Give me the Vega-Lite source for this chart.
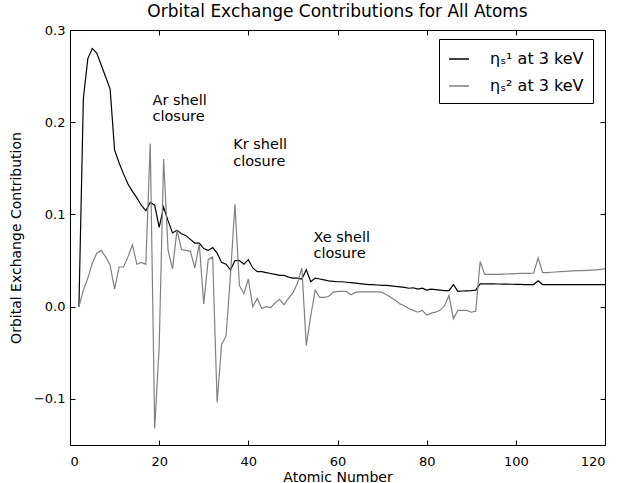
{
  "$schema": "https://vega.github.io/schema/vega-lite/v6.json",
  "width": 535,
  "height": 415,
  "autosize": "none",
  "padding": {"left": 70, "top": 30, "right": 15, "bottom": 38},
  "background": "white",
  "config": {
    "font": "DejaVu Sans",
    "view": {"stroke": "black", "strokeWidth": 1},
    "axis": {"grid": false, "domain": false, "tickColor": "black", "tickSize": -5, "labelColor": "black", "labelFontSize": 13, "titleFontSize": 14, "titleFontWeight": "normal", "titleColor": "black", "labelFont": "DejaVu Sans", "titleFont": "DejaVu Sans"}
  },
  "title": {"text": "Orbital Exchange Contributions for All Atoms", "fontSize": 17, "fontWeight": "normal", "font": "DejaVu Sans", "color": "black", "offset": 3},
  "datasets": {
    "series": [
      {"Z": 2, "a": 0, "b": 0},
      {"Z": 3, "a": 0.226, "b": 0.018},
      {"Z": 4, "a": 0.269, "b": 0.031},
      {"Z": 5, "a": 0.280, "b": 0.047},
      {"Z": 6, "a": 0.275, "b": 0.058},
      {"Z": 7, "a": 0.262, "b": 0.061},
      {"Z": 8, "a": 0.249, "b": 0.054},
      {"Z": 9, "a": 0.236, "b": 0.045},
      {"Z": 10, "a": 0.170, "b": 0.019},
      {"Z": 11, "a": 0.156, "b": 0.043},
      {"Z": 12, "a": 0.144, "b": 0.043},
      {"Z": 13, "a": 0.133, "b": 0.054},
      {"Z": 14, "a": 0.125, "b": 0.067},
      {"Z": 15, "a": 0.118, "b": 0.046},
      {"Z": 16, "a": 0.110, "b": 0.048},
      {"Z": 17, "a": 0.104, "b": 0.046},
      {"Z": 18, "a": 0.113, "b": 0.177},
      {"Z": 19, "a": 0.110, "b": -0.132},
      {"Z": 20, "a": 0.086, "b": -0.044},
      {"Z": 21, "a": 0.108, "b": 0.160},
      {"Z": 22, "a": 0.093, "b": 0.061},
      {"Z": 23, "a": 0.080, "b": 0.041},
      {"Z": 24, "a": 0.083, "b": 0.083},
      {"Z": 25, "a": 0.079, "b": 0.062},
      {"Z": 26, "a": 0.077, "b": 0.061},
      {"Z": 27, "a": 0.073, "b": 0.060},
      {"Z": 28, "a": 0.069, "b": 0.042},
      {"Z": 29, "a": 0.069, "b": 0.068},
      {"Z": 30, "a": 0.063, "b": 0.003},
      {"Z": 31, "a": 0.061, "b": 0.051},
      {"Z": 32, "a": 0.064, "b": 0.054},
      {"Z": 33, "a": 0.058, "b": -0.104},
      {"Z": 34, "a": 0.048, "b": -0.041},
      {"Z": 35, "a": 0.046, "b": -0.032},
      {"Z": 36, "a": 0.040, "b": 0.035},
      {"Z": 37, "a": 0.050, "b": 0.111},
      {"Z": 38, "a": 0.050, "b": 0.023},
      {"Z": 39, "a": 0.046, "b": 0.014},
      {"Z": 40, "a": 0.051, "b": 0.030},
      {"Z": 41, "a": 0.042, "b": 0.000},
      {"Z": 42, "a": 0.038, "b": 0.009},
      {"Z": 43, "a": 0.038, "b": -0.002},
      {"Z": 44, "a": 0.037, "b": 0.000},
      {"Z": 45, "a": 0.036, "b": -0.001},
      {"Z": 46, "a": 0.035, "b": 0.004},
      {"Z": 47, "a": 0.034, "b": 0.008},
      {"Z": 48, "a": 0.034, "b": 0.002},
      {"Z": 49, "a": 0.032, "b": 0.009},
      {"Z": 50, "a": 0.031, "b": 0.015},
      {"Z": 51, "a": 0.031, "b": 0.025},
      {"Z": 52, "a": 0.030, "b": 0.042},
      {"Z": 53, "a": 0.040, "b": -0.042},
      {"Z": 54, "a": 0.027, "b": -0.010},
      {"Z": 55, "a": 0.031, "b": 0.018},
      {"Z": 56, "a": 0.030, "b": 0.010},
      {"Z": 57, "a": 0.029, "b": 0.010},
      {"Z": 58, "a": 0.028, "b": 0.011},
      {"Z": 59, "a": 0.0275, "b": 0.0155},
      {"Z": 60, "a": 0.027, "b": 0.0165},
      {"Z": 61, "a": 0.027, "b": 0.0165},
      {"Z": 62, "a": 0.0265, "b": 0.0165},
      {"Z": 63, "a": 0.026, "b": 0.013},
      {"Z": 64, "a": 0.0255, "b": 0.0155},
      {"Z": 65, "a": 0.025, "b": 0.016},
      {"Z": 66, "a": 0.0245, "b": 0.016},
      {"Z": 67, "a": 0.024, "b": 0.016},
      {"Z": 68, "a": 0.024, "b": 0.016},
      {"Z": 69, "a": 0.0235, "b": 0.016},
      {"Z": 70, "a": 0.023, "b": 0.0155},
      {"Z": 71, "a": 0.023, "b": 0.013},
      {"Z": 72, "a": 0.0225, "b": 0.010},
      {"Z": 73, "a": 0.022, "b": 0.007},
      {"Z": 74, "a": 0.0215, "b": 0.003},
      {"Z": 75, "a": 0.021, "b": 0.001},
      {"Z": 76, "a": 0.020, "b": -0.002},
      {"Z": 77, "a": 0.0205, "b": -0.004},
      {"Z": 78, "a": 0.019, "b": -0.006},
      {"Z": 79, "a": 0.020, "b": -0.004},
      {"Z": 80, "a": 0.018, "b": -0.009},
      {"Z": 81, "a": 0.019, "b": -0.007},
      {"Z": 82, "a": 0.0185, "b": -0.006},
      {"Z": 83, "a": 0.018, "b": -0.004},
      {"Z": 84, "a": 0.0175, "b": 0.001},
      {"Z": 85, "a": 0.0175, "b": 0.012},
      {"Z": 86, "a": 0.024, "b": -0.013},
      {"Z": 87, "a": 0.0167, "b": -0.004},
      {"Z": 88, "a": 0.017, "b": -0.004},
      {"Z": 89, "a": 0.0172, "b": -0.004},
      {"Z": 90, "a": 0.0175, "b": -0.006},
      {"Z": 91, "a": 0.018, "b": -0.005},
      {"Z": 92, "a": 0.0247, "b": 0.049},
      {"Z": 93, "a": 0.0248, "b": 0.035},
      {"Z": 94, "a": 0.0247, "b": 0.035},
      {"Z": 95, "a": 0.0247, "b": 0.035},
      {"Z": 96, "a": 0.0246, "b": 0.035},
      {"Z": 97, "a": 0.0245, "b": 0.0352},
      {"Z": 98, "a": 0.0244, "b": 0.0354},
      {"Z": 99, "a": 0.0243, "b": 0.0356},
      {"Z": 100, "a": 0.0242, "b": 0.0358},
      {"Z": 101, "a": 0.0241, "b": 0.036},
      {"Z": 102, "a": 0.024, "b": 0.036},
      {"Z": 103, "a": 0.024, "b": 0.0362},
      {"Z": 104, "a": 0.024, "b": 0.0365},
      {"Z": 105, "a": 0.028, "b": 0.053},
      {"Z": 106, "a": 0.024, "b": 0.037},
      {"Z": 107, "a": 0.024, "b": 0.037},
      {"Z": 108, "a": 0.024, "b": 0.0373},
      {"Z": 109, "a": 0.024, "b": 0.0376},
      {"Z": 110, "a": 0.024, "b": 0.038},
      {"Z": 111, "a": 0.024, "b": 0.0383},
      {"Z": 112, "a": 0.024, "b": 0.0386},
      {"Z": 113, "a": 0.024, "b": 0.0388},
      {"Z": 114, "a": 0.024, "b": 0.039},
      {"Z": 115, "a": 0.024, "b": 0.039},
      {"Z": 116, "a": 0.024, "b": 0.0393},
      {"Z": 117, "a": 0.024, "b": 0.0396},
      {"Z": 118, "a": 0.024, "b": 0.040},
      {"Z": 119, "a": 0.024, "b": 0.0405},
      {"Z": 120, "a": 0.024, "b": 0.041}
    ],
    "notes": [
      {"Z": 18.5, "v": 0.231, "label": "Ar shell\nclosure"},
      {"Z": 36.6, "v": 0.1825, "label": "Kr shell\nclosure"},
      {"Z": 54.6, "v": 0.0825, "label": "Xe shell\nclosure"}
    ]
  },
  "resolve": {"axis": {"x": "independent", "y": "independent"}},
  "layer": [
    {
      "data": {"name": "series"},
      "transform": [{"fold": ["a", "b"], "as": ["series", "val"]}],
      "mark": {"type": "line", "strokeWidth": 1.2, "clip": true},
      "encoding": {
        "x": {"field": "Z", "type": "quantitative", "scale": {"domain": [0, 120], "nice": false, "zero": false},
              "axis": {"title": "Atomic Number", "values": [0, 20, 40, 60, 80, 100, 120], "labelPadding": 15, "titlePadding": 2}},
        "y": {"field": "val", "type": "quantitative", "scale": {"domain": [-0.15, 0.3], "nice": false, "zero": false},
              "axis": {"title": "Orbital Exchange Contribution", "values": [-0.1, 0, 0.1, 0.2, 0.3], "format": ".1f", "labelPadding": 10, "titlePadding": 10}},
        "color": {"field": "series", "type": "nominal",
                  "scale": {"domain": ["a", "b"], "range": ["#000000", "#808080"]},
                  "legend": {"title": null, "orient": "none", "legendX": 369, "legendY": 9,
                             "labelExpr": "datum.label == 'a' ? 'ηₛ¹ at 3 keV' : 'ηₛ² at 3 keV'",
                             "symbolType": "stroke", "symbolSize": 400, "symbolStrokeWidth": 1.5,
                             "labelFontSize": 16, "labelFont": "DejaVu Sans", "labelColor": "black", "labelOffset": 20,
                             "rowPadding": 8, "padding": 9, "strokeColor": "black", "fillColor": "white", "cornerRadius": 0}}
      }
    },
    {
      "data": {"name": "notes"},
      "mark": {"type": "text", "align": "left", "baseline": "top", "lineBreak": "\n", "fontSize": 14.5, "lineHeight": 16.5, "font": "DejaVu Sans", "color": "black"},
      "encoding": {
        "x": {"field": "Z", "type": "quantitative", "axis": {"orient": "top", "labels": false, "title": null, "values": [0, 20, 40, 60, 80, 100, 120]}},
        "y": {"field": "v", "type": "quantitative", "axis": {"orient": "right", "labels": false, "title": null, "values": [-0.1, 0, 0.1, 0.2, 0.3]}},
        "text": {"field": "label", "type": "nominal"}
      }
    }
  ]
}
